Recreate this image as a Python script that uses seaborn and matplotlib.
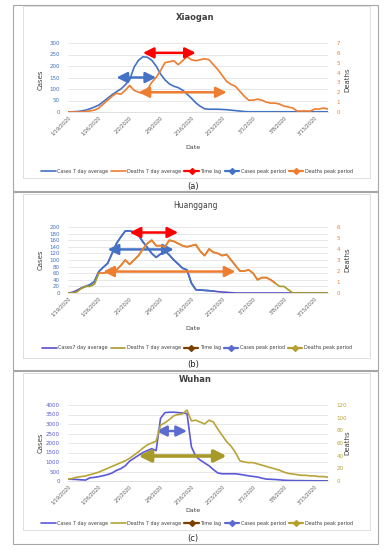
import numpy as np
import pandas as pd
import matplotlib
matplotlib.use('Agg')
import matplotlib.pyplot as plt
import matplotlib.dates as mdates
from matplotlib.lines import Line2D
from matplotlib.patches import Rectangle
import seaborn as sns

sns.set_style('white')
plt.rcParams['font.family'] = ['DejaVu Sans']

# Dates (daily, 1/19/2020 to 3/18/2020)
dates = pd.date_range('2020-01-19', periods=60, freq='D')
tick_dates = pd.date_range('2020-01-19', periods=9, freq='7D')
tick_labels = ['1/19/2020', '1/26/2020', '2/2/2020', '2/9/2020', '2/16/2020',
               '2/23/2020', '3/1/2020', '3/8/2020', '3/15/2020']

# Xiaogan
xiaogan_cases = [0, 1, 2, 4, 8, 14, 22, 30, 45, 60, 75, 88, 100, 118, 140, 195, 225, 240, 238, 225,
                 200, 165, 140, 122, 112, 106, 95, 78, 60, 40, 25, 14, 12, 12, 12, 11, 10, 8, 6, 4,
                 2, 1, 1, 1, 1, 1, 1, 1, 1, 1, 1, 1, 1, 1, 1, 1, 1, 1, 1, 1]
xiaogan_deaths = [0, 0, 0, 0, 0.05, 0.1, 0.2, 0.4, 0.8, 1.2, 1.6, 1.9, 1.8, 2.2, 2.7, 2.2, 2.0, 1.9, 2.3, 3.0,
                  3.5, 4.2, 5.0, 5.1, 5.2, 4.8, 5.2, 5.6, 5.3, 5.2, 5.3, 5.4, 5.3, 4.8, 4.3, 3.7, 3.1, 2.8, 2.6, 2.1,
                  1.6, 1.2, 1.2, 1.3, 1.2, 1.0, 0.9, 0.9, 0.8, 0.6, 0.5, 0.4, 0.1, 0.1, 0.1, 0.1, 0.3, 0.3, 0.4, 0.3]
xiaogan_lag = ['2020-02-05', '2020-02-17', 6.0]
xiaogan_cases_peak = ['2020-01-30', '2020-02-08', 150]
xiaogan_deaths_peak = ['2020-02-04', '2020-02-24', 2.0]

# Huanggang
huanggang_cases = [0, 2, 8, 15, 20, 25, 35, 65, 78, 90, 120, 150, 170, 188, 188, 185, 175, 155, 138, 120,
                   108, 118, 128, 115, 100, 88, 75, 70, 30, 10, 9, 8, 7, 6, 4, 3, 2, 1, 0, 0,
                   0, 0, 0, 0, 0, 0, 0, 0, 0, 0, 0, 0, 0, 0, 0, 0, 0, 0, 0, 0]
huanggang_deaths = [0, 0, 0.1, 0.4, 0.6, 0.6, 0.8, 1.8, 1.8, 1.9, 2.0, 2.1, 2.5, 3.0, 2.6, 3.0, 3.4, 4.0, 4.5, 4.8,
                    4.3, 4.3, 4.2, 4.8, 4.7, 4.5, 4.3, 4.2, 4.3, 4.4, 3.8, 3.4, 4.0, 3.7, 3.6, 3.4, 3.5, 3.0, 2.5, 2.0,
                    2.0, 2.1, 1.8, 1.2, 1.4, 1.4, 1.2, 0.9, 0.6, 0.6, 0.3, 0, 0, 0, 0, 0, 0, 0, 0, 0]
huanggang_lag = ['2020-02-02', '2020-02-13', 5.5]
huanggang_cases_peak = ['2020-01-28', '2020-02-12', 132]
huanggang_deaths_peak = ['2020-01-27', '2020-02-26', 1.95]

# Wuhan
wuhan_cases = [100, 90, 80, 60, 50, 170, 190, 230, 280, 340, 420, 560, 650, 800, 1050, 1200, 1350, 1500, 1600, 1700,
               1600, 3300, 3600, 3620, 3620, 3600, 3580, 3550, 1800, 1300, 1100, 950, 800, 600, 420, 380, 380, 380, 380, 350,
               310, 270, 240, 210, 150, 100, 90, 80, 60, 40, 30, 25, 20, 20, 15, 15, 10, 10, 8, 6]
wuhan_deaths = [3, 4, 6, 7, 8, 10, 12, 14, 17, 20, 23, 26, 29, 32, 36, 41, 46, 52, 57, 60,
                63, 88, 92, 97, 103, 105, 106, 112, 95, 96, 93, 90, 96, 93, 82, 72, 62, 55, 45, 32,
                30, 29, 29, 27, 25, 23, 21, 19, 17, 14, 12, 11, 10, 9, 9, 8, 8, 7, 7, 6]
wuhan_cases_peak = ['2020-02-08', '2020-02-15', 2630]
wuhan_deaths_peak = ['2020-02-04', '2020-02-24', 39.5]

W, H = 386, 550
fig = plt.figure(figsize=(W / 100, H / 100), dpi=100)


def fx(px):
    return px / W


def fy(py):
    return 1 - py / H


def frames(top, bottom, box_top, box_bottom):
    fig.add_artist(Rectangle((fx(13), fy(bottom)), fx(365), (bottom - top) / H,
                             transform=fig.transFigure, fill=False, ec='#a6a6a6', lw=0.8))
    fig.add_artist(Rectangle((fx(23), fy(box_bottom)), fx(347), (box_bottom - box_top) / H,
                             transform=fig.transFigure, fill=False, ec='#d9d9d9', lw=0.6))


def arrow(ax, spec, color, lw=1.8, scale=7):
    x0 = mdates.date2num(pd.Timestamp(spec[0]))
    x1 = mdates.date2num(pd.Timestamp(spec[1]))
    ax.annotate('', xy=(x1, spec[2]), xytext=(x0, spec[2]),
                arrowprops=dict(arrowstyle='<|-|>,head_length=0.9,head_width=0.45',
                                mutation_scale=scale, color=color, lw=lw,
                                shrinkA=0, shrinkB=0), zorder=5)


def style(ax, ax2, cmax, cstep, dmax, dstep, ccol, dcol):
    ax.set_xlim(dates[0], dates[-1])
    ax.set_ylim(0, cmax)
    ax2.set_ylim(0, dmax)
    ax.set_yticks(np.arange(0, cmax + 1, cstep))
    ax2.set_yticks(np.arange(0, dmax + 0.01, dstep))
    ax.set_xticks(tick_dates)
    ax.set_xticklabels(tick_labels, rotation=45, ha='right', rotation_mode='anchor', fontsize=3.6, color='#595959')
    ax.tick_params(axis='y', labelsize=4, colors=ccol, length=0, pad=6)
    ax.tick_params(axis='x', length=0, pad=2)
    ax2.tick_params(axis='y', labelsize=4, colors=dcol, length=0, pad=6)
    ax.yaxis.grid(True, color='#e3e3e3', lw=0.6)
    ax.set_axisbelow(True)
    for a in (ax, ax2):
        for s in a.spines.values():
            s.set_visible(False)
        a.set_xlabel('')
        a.set_ylabel('')
    ax.spines['bottom'].set_visible(True)
    ax.spines['bottom'].set_color('#d9d9d9')
    ax.spines['bottom'].set_linewidth(0.6)


def texts(title, title_y, date_y, side_y, caption, cap_y, legend_y, labels, handles, bold=True):
    fig.text(fx(195), fy(title_y), title, ha='center', va='center', fontsize=6 if bold else 5.5,
             fontweight='bold' if bold else 'normal', color='#404040')
    fig.text(fx(193), fy(date_y), 'Date', ha='center', va='center', fontsize=4.5, color='#404040')
    fig.text(fx(41), fy(side_y), 'Cases', ha='center', va='center', rotation=90, fontsize=5, color='#404040')
    fig.text(fx(347), fy(side_y), 'Deaths', ha='center', va='center', rotation=90, fontsize=5, color='#404040')
    fig.text(fx(193), fy(cap_y), caption, ha='center', va='center', fontsize=6, color='#262626')
    fig.legend(handles, labels, loc='center', bbox_to_anchor=(fx(197), fy(legend_y)), ncol=5, fontsize=3.5,
               frameon=False, handlelength=3.0, columnspacing=0.6, handletextpad=0.3, labelcolor='#404040')


def arrow_handle(c):
    return Line2D([], [], color=c, lw=1.6, marker='D', markersize=3)


# ---------- (a) Xiaogan ----------
blue, orange, red = '#4472C4', '#ED7D31', '#FF0000'
frames(5, 191, 6, 178)
ax = fig.add_axes([fx(68), fy(112), fx(260), 69 / H])
ax2 = ax.twinx()
dfa = pd.DataFrame({'date': dates, 'cases': xiaogan_cases, 'deaths': xiaogan_deaths})
sns.lineplot(data=dfa, x='date', y='cases', ax=ax, color=blue, lw=1.2)
sns.lineplot(data=dfa, x='date', y='deaths', ax=ax2, color=orange, lw=1.2)
style(ax, ax2, 300, 50, 7, 1, blue, orange)
arrow(ax2, xiaogan_lag, red)
arrow(ax, xiaogan_cases_peak, blue)
arrow(ax2, xiaogan_deaths_peak, orange)
texts('Xiaogan', 17, 147, 80, '(a)', 186, 171,
      ['Cases 7 day average', 'Deaths 7 day average', 'Time lag', 'Cases peak period', 'Deaths peak period'],
      [Line2D([], [], color=blue, lw=1.2), Line2D([], [], color=orange, lw=1.2),
       arrow_handle(red), arrow_handle(blue), arrow_handle(orange)])

# ---------- (b) Huanggang ----------
purple, olive = '#5a4fc8', '#a89a2a'
frames(192, 370, 194, 358)
ax = fig.add_axes([fx(68), fy(293), fx(260), 66 / H])
ax2 = ax.twinx()
dfb = pd.DataFrame({'date': dates, 'cases': huanggang_cases, 'deaths': huanggang_deaths})
sns.lineplot(data=dfb, x='date', y='cases', ax=ax, color=purple, lw=1.2)
sns.lineplot(data=dfb.iloc[3:34], x='date', y='cases', ax=ax, color=blue, lw=1.2)
sns.lineplot(data=dfb, x='date', y='deaths', ax=ax2, color=olive, lw=1.2)
sns.lineplot(data=dfb.iloc[7:48], x='date', y='deaths', ax=ax2, color=orange, lw=1.2)
style(ax, ax2, 200, 20, 6, 1, blue, orange)
arrow(ax2, huanggang_lag, red)
arrow(ax, huanggang_cases_peak, blue)
arrow(ax2, huanggang_deaths_peak, orange)
texts('Huanggang', 205, 329, 260, '(b)', 365, 348,
      ['Cases7 day average', 'Deaths 7 day average', 'Time lag', 'Cases peak period', 'Deaths peak period'],
      [Line2D([], [], color=purple, lw=1.2), Line2D([], [], color=olive, lw=1.2),
       arrow_handle('#7b3f00'), arrow_handle('#5b6bd0'), arrow_handle('#b5a030')], bold=False)

# ---------- (c) Wuhan ----------
wblue, wgold = '#5a5ad6', '#b8a437'
frames(371, 544, 373, 530)
ax = fig.add_axes([fx(68), fy(481), fx(260), 76 / H])
ax2 = ax.twinx()
dfc = pd.DataFrame({'date': dates, 'cases': wuhan_cases, 'deaths': wuhan_deaths})
sns.lineplot(data=dfc, x='date', y='cases', ax=ax, color=wblue, lw=1.2)
sns.lineplot(data=dfc, x='date', y='deaths', ax=ax2, color=wgold, lw=1.2)
style(ax, ax2, 4000, 500, 120, 20, wblue, wgold)
arrow(ax, wuhan_cases_peak, '#5b6bd0')
arrow(ax2, wuhan_deaths_peak, '#a89a2a', lw=2.6, scale=8)
texts('Wuhan', 380, 510, 443, '(c)', 538, 523,
      ['Cases 7 day average', 'Deaths 7 day average', 'Time lag', 'Cases peak period', 'Deaths peak period'],
      [Line2D([], [], color=wblue, lw=1.2), Line2D([], [], color=wgold, lw=1.2),
       arrow_handle('#7b3f00'), arrow_handle('#5b6bd0'), arrow_handle('#b5a030')], bold=True)

fig.savefig('out.png', dpi=100)
